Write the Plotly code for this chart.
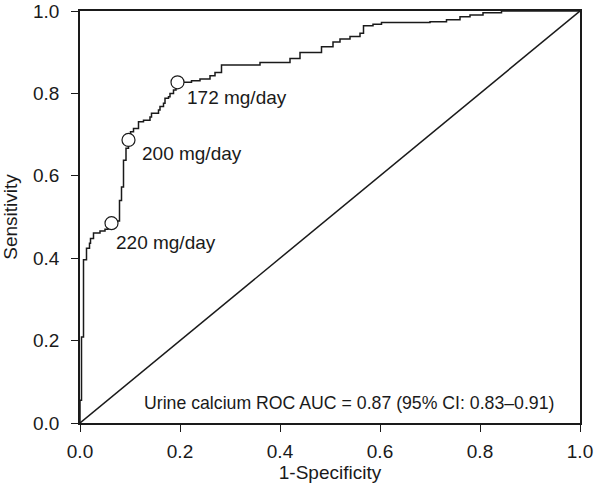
import plotly.graph_objects as go

# ROC step vertices: at each FPR the curve rises to the given TPR, then moves right
fpr = [0.0, 0.0, 0.003, 0.007, 0.013, 0.019, 0.021, 0.027, 0.040, 0.050, 0.056,
       0.063, 0.070, 0.079, 0.083, 0.087, 0.092, 0.097, 0.101, 0.107, 0.117,
       0.127, 0.140, 0.143, 0.157, 0.160, 0.167, 0.170, 0.177, 0.180, 0.187,
       0.192, 0.195, 0.223, 0.240, 0.260, 0.270, 0.283, 0.360, 0.420, 0.440,
       0.483, 0.506, 0.520, 0.540, 0.560, 0.567, 0.586, 0.603, 0.700, 0.733,
       0.760, 0.780, 0.806, 0.843, 1.0]
tpr = [0.0, 0.055, 0.209, 0.396, 0.424, 0.436, 0.448, 0.461, 0.466, 0.470, 0.478,
       0.485, 0.490, 0.540, 0.573, 0.638, 0.667, 0.687, 0.707, 0.715, 0.731,
       0.735, 0.743, 0.752, 0.760, 0.768, 0.776, 0.788, 0.792, 0.800, 0.808,
       0.820, 0.827, 0.831, 0.835, 0.843, 0.851, 0.869, 0.875, 0.885, 0.899,
       0.913, 0.925, 0.932, 0.938, 0.946, 0.964, 0.968, 0.972, 0.974, 0.979,
       0.986, 0.990, 0.996, 1.0, 1.0]

# Cut-off points
cut_fpr = [0.063, 0.097, 0.195]
cut_tpr = [0.485, 0.687, 0.827]
cut_labels = ["220 mg/day", "200 mg/day", "172 mg/day"]

ref_line = [0.0, 1.0]
auc_text = "Urine calcium ROC AUC = 0.87 (95% CI: 0.83\u20130.91)"

tick_vals = [0.0, 0.2, 0.4, 0.6, 0.8, 1.0]
tick_text = ["0.0", "0.2", "0.4", "0.6", "0.8", "1.0"]

ink = "#1a1a1a"
font = "Liberation Sans, Arial, Helvetica, sans-serif"

fig = go.Figure()
fig.add_trace(go.Scatter(x=ref_line, y=ref_line, mode="lines",
                         line=dict(color=ink, width=1.5), hoverinfo="skip"))
fig.add_trace(go.Scatter(x=fpr, y=tpr, mode="lines",
                         line=dict(color=ink, width=1.5, shape="hv")))
fig.add_trace(go.Scatter(x=cut_fpr, y=cut_tpr, mode="markers",
                         marker=dict(symbol="circle", size=13, color="white",
                                     line=dict(color=ink, width=1.2)),
                         cliponaxis=False))

offsets = [(0.004, -0.048), (0.023, -0.032), (0.015, -0.038)]
for xv, yv, lab, (dx, dy) in zip(cut_fpr, cut_tpr, cut_labels, offsets):
    fig.add_annotation(x=xv + dx, y=yv + dy, text=lab, showarrow=False,
                       xanchor="left", yanchor="middle",
                       font=dict(size=19, color=ink, family=font))

fig.add_annotation(x=0.538, y=0.0485, text=auc_text, showarrow=False,
                   xanchor="center", yanchor="middle",
                   font=dict(size=17.7, color=ink, family=font))

axis_common = dict(range=[0, 1], tickvals=tick_vals, ticktext=tick_text,
                   showline=True, linecolor=ink, linewidth=1.5, mirror=True,
                   ticks="outside", ticklen=7, tickwidth=1.2, tickcolor=ink,
                   showgrid=False, zeroline=False, automargin=False,
                   tickfont=dict(size=19, color=ink, family=font))

fig.update_layout(
    width=600, height=488,
    margin=dict(l=80, r=20, t=11, b=65),
    plot_bgcolor="white", paper_bgcolor="white",
    showlegend=False,
    xaxis=dict(title=dict(text="1-Specificity", standoff=0,
                          font=dict(size=19, color=ink, family=font)),
               ticklabelstandoff=3, **axis_common),
    yaxis=dict(title=dict(text="Sensitivity", standoff=16,
                          font=dict(size=19, color=ink, family=font)),
               ticklabelstandoff=8, **axis_common),
)

# remove the browser's default 8px body margin so the figure fills the window
fig.write_html("out.html", config={"displayModeBar": False},
               post_script="document.body.style.margin='0px';")
